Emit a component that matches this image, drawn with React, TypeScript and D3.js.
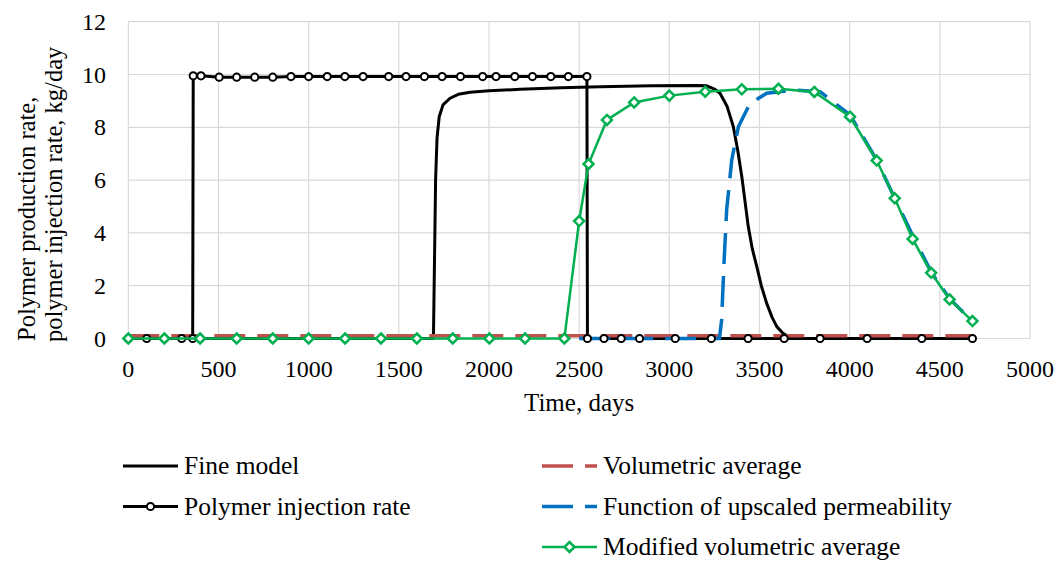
import React from "react";
import * as d3 from "d3";

const fineDays = [0, 1692, 1698, 1704, 1712, 1724, 1745, 1784, 1830, 1895, 2000, 2173, 2400, 2617, 2900, 3150, 3208, 3250, 3281, 3320, 3355, 3380, 3402, 3438, 3460, 3485, 3510, 3540, 3570, 3596, 3630, 3661, 3700, 4680];
const fineRate = [0, 0, 3.0, 6.0, 7.6, 8.4, 8.85, 9.1, 9.25, 9.33, 9.38, 9.44, 9.5, 9.54, 9.57, 9.58, 9.57, 9.45, 9.29, 8.8, 8.02, 7.1, 6.13, 4.23, 3.4, 2.72, 2.0, 1.33, 0.8, 0.45, 0.2, 0.07, 0, 0];

const injDays = [0, 102, 296, 357, 360, 403, 504, 601, 701, 801, 902, 1000, 1103, 1201, 1302, 1444, 1540, 1642, 1740, 1842, 1965, 2039, 2143, 2241, 2343, 2440, 2543, 2546, 2638, 2733, 2835, 3033, 3233, 3437, 3637, 3836, 4097, 4400, 4681];
const injRate = [0, 0, 0, 0, 9.95, 9.95, 9.9, 9.9, 9.9, 9.9, 9.92, 9.92, 9.92, 9.92, 9.92, 9.92, 9.92, 9.92, 9.92, 9.92, 9.92, 9.92, 9.92, 9.92, 9.92, 9.92, 9.92, 0, 0, 0, 0, 0, 0, 0, 0, 0, 0, 0, 0];

const volDays = [0, 1000, 2000, 3000, 4000, 4680];
const volRate = [0.1, 0.1, 0.1, 0.1, 0.1, 0.1];

const upDays = [2500, 3278, 3290, 3304, 3318, 3346, 3383, 3447, 3540, 3688, 3836, 4002, 4150, 4250, 4352, 4456, 4558, 4681];
const upRate = [0, 0, 0.7, 2.97, 4.87, 6.76, 8.02, 8.9, 9.29, 9.41, 9.35, 8.47, 6.76, 5.31, 3.86, 2.47, 1.48, 0.64];

const modDays = [0, 200, 398, 601, 801, 1000, 1202, 1401, 1600, 1799, 2002, 2200, 2418, 2500, 2552, 2654, 2805, 3000, 3199, 3402, 3605, 3804, 4002, 4150, 4250, 4349, 4452, 4554, 4681];
const modRate = [0, 0, 0, 0, 0, 0, 0, 0, 0, 0, 0, 0, 0, 4.45, 6.61, 8.28, 8.94, 9.2, 9.35, 9.44, 9.46, 9.34, 8.4, 6.74, 5.31, 3.77, 2.49, 1.48, 0.66];

const xTicks = [0, 500, 1000, 1500, 2000, 2500, 3000, 3500, 4000, 4500, 5000];
const yTicks = [0, 2, 4, 6, 8, 10, 12];

const seriesNames = ["Fine model", "Polymer injection rate", "Volumetric average", "Function of upscaled permeability", "Modified volumetric average"];

const FONT = "'Liberation Serif', 'Times New Roman', serif";

function zip(xs: number[], ys: number[]): [number, number][] {
  return xs.map((x, i) => [x, ys[i]]);
}

export default function App() {
  const left = 128.3, right = 1030, top = 21.7, bottom = 338.5;
  const x = d3.scaleLinear().domain([0, 5000]).range([left, right]);
  const y = d3.scaleLinear().domain([0, 12]).range([bottom, top]);
  const line = d3.line<[number, number]>().x(d => x(d[0])).y(d => y(d[1]));

  const fine = zip(fineDays, fineRate);
  const inj = zip(injDays, injRate);
  const vol = zip(volDays, volRate);
  const up = zip(upDays, upRate);
  const mod = zip(modDays, modRate);

  const diamond = (cx: number, cy: number, r: number) =>
    `M${cx},${cy - r}L${cx + r},${cy}L${cx},${cy + r}L${cx - r},${cy}Z`;

  const red = "#C0504D", blue = "#0070C0", green = "#00B050";
  const grid = "#D9D9D9";

  const legL = 123, legLEnd = 178, legLText = 184;
  const legR = 542, legREnd = 597, legRText = 603;
  const rows = [466, 506.5, 547];
  const legFont = 25.5;

  return (
    <svg width={1064} height={561} style={{ position: "absolute", left: 0, top: 0, background: "#fff" }} fontFamily={FONT}>
      <rect x={0} y={0} width={1064} height={561} fill="#fff" />
      {yTicks.map(t => (
        <line key={"gy" + t} x1={left} x2={right} y1={y(t)} y2={y(t)} stroke={grid} strokeWidth={1.2} />
      ))}
      {xTicks.map(t => (
        <line key={"gx" + t} x1={x(t)} x2={x(t)} y1={top} y2={bottom} stroke={grid} strokeWidth={1.2} />
      ))}
      {yTicks.map(t => (
        <text key={"ly" + t} x={106} y={y(t) + 8} fontSize={24} textAnchor="end" fill="#000">{t}</text>
      ))}
      {xTicks.map(t => (
        <text key={"lx" + t} x={x(t)} y={377} fontSize={24} textAnchor="middle" fill="#000">{t}</text>
      ))}
      <text x={(left + right) / 2} y={411} fontSize={25} textAnchor="middle">Time, days</text>
      <text transform="translate(35,341) rotate(-90)" fontSize={24.5} textAnchor="start">Polymer production rate,</text>
      <text transform="translate(62,342) rotate(-90)" fontSize={24.5} textAnchor="start">polymer injection rate, kg/day</text>

      <path d={line(fine) || ""} fill="none" stroke="#000" strokeWidth={3} strokeLinejoin="round" />
      <path d={line(inj) || ""} fill="none" stroke="#000" strokeWidth={3} />
      <path d={line(vol) || ""} fill="none" stroke={red} strokeWidth={3.5} strokeDasharray="31 12" />
      <path d={line(up) || ""} fill="none" stroke={blue} strokeWidth={3.5} strokeDasharray="31 12" />
      {inj.map((d, i) => (
        <circle key={"c" + i} cx={x(d[0])} cy={y(d[1])} r={3.6} fill="#fff" stroke="#000" strokeWidth={2} />
      ))}
      <path d={line(mod) || ""} fill="none" stroke={green} strokeWidth={2.5} />
      {mod.map((d, i) => (
        <path key={"d" + i} d={diamond(x(d[0]), y(d[1]), 5)} fill="#fff" stroke={green} strokeWidth={2.5} />
      ))}

      <line x1={legL} x2={legLEnd} y1={rows[0]} y2={rows[0]} stroke="#000" strokeWidth={3} />
      <text x={legLText} y={rows[0] + 8} fontSize={legFont}>{seriesNames[0]}</text>
      <line x1={legL} x2={legLEnd} y1={rows[1]} y2={rows[1]} stroke="#000" strokeWidth={3} />
      <circle cx={(legL + legLEnd) / 2} cy={rows[1]} r={3.6} fill="#fff" stroke="#000" strokeWidth={2} />
      <text x={legLText} y={rows[1] + 8} fontSize={legFont}>{seriesNames[1]}</text>

      <line x1={legR} x2={legREnd} y1={rows[0]} y2={rows[0]} stroke={red} strokeWidth={3.5} strokeDasharray="31 12" />
      <text x={legRText} y={rows[0] + 8} fontSize={legFont}>{seriesNames[2]}</text>
      <line x1={legR} x2={legREnd} y1={rows[1]} y2={rows[1]} stroke={blue} strokeWidth={3.5} strokeDasharray="31 12" />
      <text x={legRText} y={rows[1] + 8} fontSize={legFont}>{seriesNames[3]}</text>
      <line x1={legR} x2={legREnd} y1={rows[2]} y2={rows[2]} stroke={green} strokeWidth={2.5} />
      <path d={diamond((legR + legREnd) / 2, rows[2], 5)} fill="#fff" stroke={green} strokeWidth={2.5} />
      <text x={legRText} y={rows[2] + 8} fontSize={legFont}>{seriesNames[4]}</text>
    </svg>
  );
}
